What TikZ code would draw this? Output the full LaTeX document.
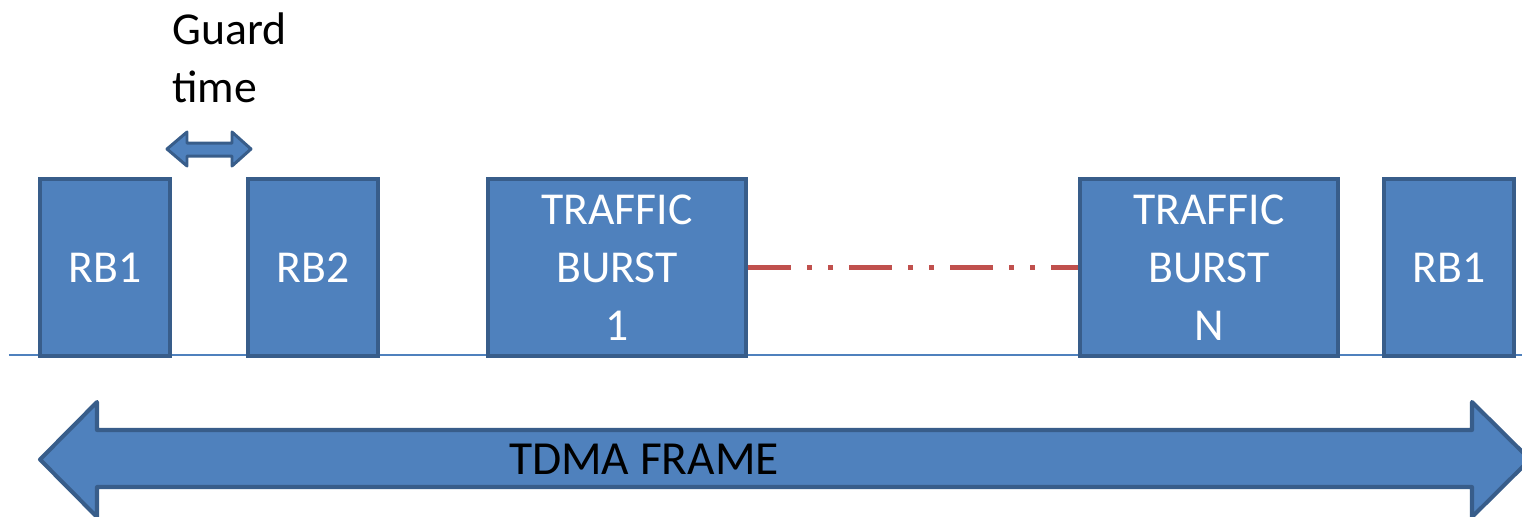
\documentclass[tikz,border=0pt]{standalone}
\usepackage{fontspec}
\setmainfont{Carlito}
\definecolor{boxfill}{HTML}{4F81BD}
\definecolor{boxedge}{HTML}{385D8A}
\definecolor{dotred}{HTML}{C0504D}
\begin{document}
\begin{tikzpicture}[
        burst/.style={draw=boxedge,fill=boxfill,line width=2.3pt,text=white,
            minimum height=3.54cm,align=center,inner sep=0pt,
            font=\fontsize{26}{33}\selectfont},
        rb/.style={burst,minimum width=2.6cm},
        tb/.style={burst,minimum width=5.16cm}]
        	\useasboundingbox (0,0) rectangle (30.44,-10.32);
        	\draw[boxfill,line width=1.2pt] (0.18,-7.1) -- (30.44,-7.1);
            \node[rb] (rba) at (2.1,-5.35) {RB1};
            \node[rb] (rbb) at (6.26,-5.35) {RB2};
            \node[tb] (tba) at (12.34,-5.35) {TRAFFIC\\BURST\\1};
            \node[tb] (tbn) at (24.18,-5.35) {TRAFFIC\\BURST\\N};
            \node[rb] (rbc) at (28.98,-5.35) {RB1};
            \draw[dotred,line width=2.8pt,dash pattern=on 0.86cm off 0.32cm on 0.1cm off 0.32cm on 0.1cm off 0.32cm]
                (tba.east) -- (tbn.west);
        	\draw[draw=boxedge,fill=boxfill,line width=1.7pt,line join=round]
                (3.34,-2.98) -- (3.74,-2.64) -- (3.74,-2.86) -- (4.64,-2.86) -- (4.64,-2.64)
                -- (5.02,-2.98) -- (4.64,-3.32) -- (4.64,-3.12) -- (3.74,-3.12) -- (3.74,-3.32) -- cycle;
            \node[anchor=west,align=left,inner sep=0pt,font=\fontsize{26}{33}\selectfont] (guard) at (3.44,-1.16) {Guard\\time};
        	\draw[draw=boxedge,fill=boxfill,line width=2.3pt,line join=round]
                (0.8,-9.19) -- (1.94,-8.04) -- (1.94,-8.6) -- (29.44,-8.6) -- (29.44,-8.04)
                -- (30.6,-9.19) -- (29.44,-10.34) -- (29.44,-9.74) -- (1.94,-9.74) -- (1.94,-10.34) -- cycle;
            \node[font=\fontsize{27}{33}\selectfont] (frame) at (12.88,-9.19) {TDMA FRAME};
        \end{tikzpicture}
\end{document}
